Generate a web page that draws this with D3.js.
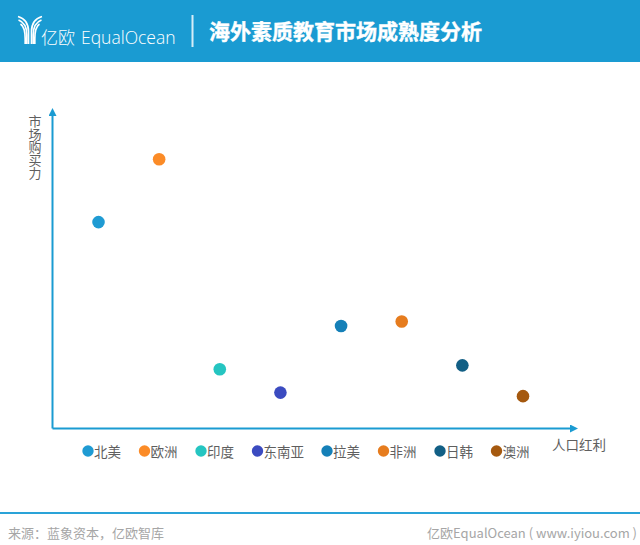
<!DOCTYPE html>
<html>
<head>
<meta charset="utf-8">
<script src="https://cdn.jsdelivr.net/npm/d3@7"></script>
<style>
  html, body { margin: 0; padding: 0; background: #fff; }
  svg { display: block; }
  text { font-family: "Noto Sans CJK SC", "Noto Sans", sans-serif; }
</style>
</head>
<body>
<div id="chart"></div>
<script>
// data
const regions = ['北美', '欧洲', '印度', '东南亚', '拉美', '非洲', '日韩', '澳洲'];
const buyingPower = [64.4, 84, 18.5, 11.2, 32, 33.4, 19.7, 10.1];
const colors = ['#1f9bd3', '#fb8b27', '#25c5c1', '#3b4bc0', '#1580b8', '#e67c1e', '#125f85', '#a5590f'];

const width = 640;
const height = 545;
const blue = '#1a9bd2';
const textGray = '#5f5f5f';

const svg = d3.select('#chart').append('svg')
  .attr('width', width)
  .attr('height', height);

// header band
svg.append('rect').attr('width', width).attr('height', 62).attr('fill', blue);

// logo mark, three curved stripes on each side running into the trunk
const logo = svg.append('g').attr('fill', 'none').attr('stroke', '#fff').attr('stroke-width', 1.7);
[[18, 16.5, 28.5], [18.5, 20, 26.8], [20.5, 24, 25.2]].forEach(d => {
  const inner = d[2];
  logo.append('path').attr('d', `M${d[0]},${d[1]}Q${inner},${d[1] + 3} ${inner},${d[1] + 15}V44`);
  logo.append('path').attr('d', `M${60 - d[0]},${d[1]}Q${60 - inner},${d[1] + 3} ${60 - inner},${d[1] + 15}V44`);
});
svg.append('text').attr('x', 41).attr('y', 44).attr('fill', '#fff')
  .attr('font-size', 17).attr('font-weight', 300).text('亿欧');
svg.append('text').attr('x', 81).attr('y', 43.5).attr('fill', '#fff')
  .attr('font-size', 17.5).attr('font-weight', 300)
  .style('font-family', '"Open Sans", sans-serif').text('EqualOcean');
svg.append('rect').attr('x', 191.5).attr('y', 15).attr('width', 2).attr('height', 32).attr('fill', '#d5edf8');
svg.append('text').attr('x', 209).attr('y', 39).attr('fill', '#fff')
  .attr('stroke', '#fff').attr('stroke-width', 0.4)
  .attr('font-size', 21).attr('font-weight', 700).text('海外素质教育市场成熟度分析');

// scales
const x = d3.scalePoint().domain(regions).range([98.5, 523]);
const y = d3.scaleLinear().domain([0, 100]).range([428.5, 108]);

// axes with arrow heads
const defs = svg.append('defs');
defs.append('marker').attr('id', 'arrow')
  .attr('viewBox', '0 0 8 8').attr('refX', 1).attr('refY', 4)
  .attr('markerWidth', 8).attr('markerHeight', 8)
  .attr('markerUnits', 'userSpaceOnUse').attr('orient', 'auto')
  .append('path').attr('d', 'M0,0L8,4L0,8Z').attr('fill', blue);

svg.append('path')
  .attr('d', 'M52.5,428.5H571')
  .attr('fill', 'none').attr('stroke', blue).attr('stroke-width', 2)
  .attr('marker-end', 'url(#arrow)');
svg.append('path')
  .attr('d', 'M52.5,428.5V115')
  .attr('fill', 'none').attr('stroke', blue).attr('stroke-width', 2)
  .attr('marker-end', 'url(#arrow)');

// axis titles
svg.append('text').attr('x', 552).attr('y', 450).attr('fill', textGray)
  .attr('font-size', 13.5).text('人口红利');
svg.append('text')
  .attr('x', 35).attr('y', 114.5)
  .style('writing-mode', 'vertical-rl')
  .attr('fill', textGray)
  .attr('font-size', 13).text('市场购买力');

// points
svg.selectAll('.pt').data(regions).join('circle')
  .attr('class', 'pt')
  .attr('cx', d => x(d))
  .attr('cy', (d, i) => y(buyingPower[i]))
  .attr('r', 6.3)
  .attr('fill', (d, i) => colors[i]);

// legend
const legendX = d3.scaleOrdinal().domain(regions).range([88, 144.5, 201, 257.5, 327, 383.5, 440, 496.5]);
const legend = svg.selectAll('.legend').data(regions).join('g')
  .attr('class', 'legend')
  .attr('transform', d => `translate(${legendX(d)},451)`);
legend.append('circle').attr('r', 5.7).attr('fill', (d, i) => colors[i]);
legend.append('text').attr('x', 6).attr('y', 5.5).attr('fill', textGray)
  .attr('font-size', 13.5).text(d => d);

// footer
svg.append('rect').attr('x', 0).attr('y', 512).attr('width', width).attr('height', 2).attr('fill', '#2aa3d8');
svg.append('text').attr('x', 8).attr('y', 538).attr('fill', '#a6a6a6')
  .attr('font-size', 13).text('来源：蓝象资本，亿欧智库');
svg.append('text').attr('x', 637).attr('y', 538).attr('text-anchor', 'end').attr('fill', '#a6a6a6')
  .attr('font-size', 13).attr('xml:space', 'preserve').style('white-space', 'pre')
  .text('亿欧EqualOcean ( www.iyiou.com )');
</script>
</body>
</html>
